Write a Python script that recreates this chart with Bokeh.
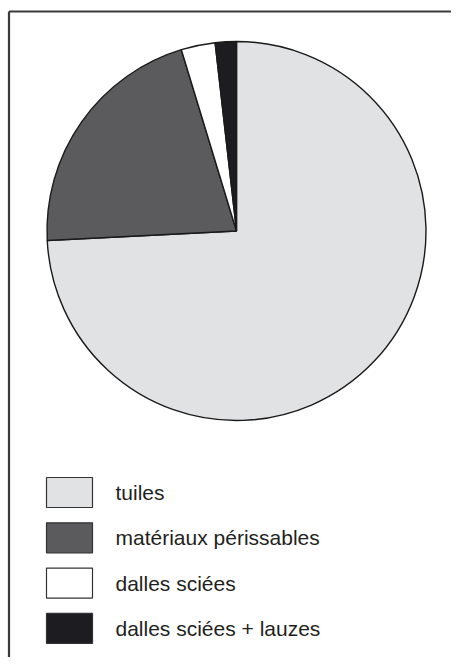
import math
from bokeh.plotting import figure
from bokeh.models import Range1d, ColumnDataSource
from bokeh.core.properties import value
from bokeh.embed import file_html
from bokeh.resources import INLINE

categories = ["tuiles", "matériaux périssables", "dalles sciées", "dalles sciées + lauzes"]
shares = [74.2, 21.1, 2.9, 1.8]
colors = ["#e1e2e4", "#5b5b5d", "#ffffff", "#1d1c21"]

W, H = 451, 657
p = figure(width=W, height=H, output_backend="svg", toolbar_location=None,
           x_range=Range1d(0, W), y_range=Range1d(0, H), min_border=0)
p.axis.visible = False
p.grid.visible = False
p.outline_line_color = None
p.background_fill_color = "white"
p.border_fill_color = "white"

# frame (top and left)
p.line(x=[8.5, W], y=[H - 11, H - 11], line_color="#3a3a3a", line_width=2.2)
p.line(x=[8.5, 8.5], y=[0, H - 11], line_color="#3a3a3a", line_width=2.2)

# pie
total = sum(shares)
starts, ends = [], []
cum = 0.0
for s in shares:
    starts.append(math.pi / 2 - cum / total * 2 * math.pi)
    cum += s
    ends.append(math.pi / 2 - cum / total * 2 * math.pi)
src = ColumnDataSource(dict(start=starts, end=ends, color=colors, cat=categories))
cx, cy, r = 236, H - 230.5, 189.5
p.wedge(x=cx, y=cy, radius=r, start_angle="start", end_angle="end", direction="clock",
        fill_color="color", line_color="#1a1a1a", line_width=1.4, source=src)

# legend
lx, ly0, dy = 69, H - 492, 45.3
lys = [ly0 - i * dy for i in range(len(categories))]
lsrc = ColumnDataSource(dict(x=[lx] * 4, y=lys, color=colors, cat=categories,
                             tx=[115] * 4))
p.rect(x="x", y="y", width=46, height=30, fill_color="color", line_color="#333333",
       line_width=1.2, source=lsrc)
p.text(x="tx", y="y", text="cat", text_font=value("Liberation Sans"),
       text_font_size="21px", text_color="#231f20", text_baseline="middle",
       text_align="left", source=lsrc)

open("out.html", "w").write(file_html(p, INLINE))
